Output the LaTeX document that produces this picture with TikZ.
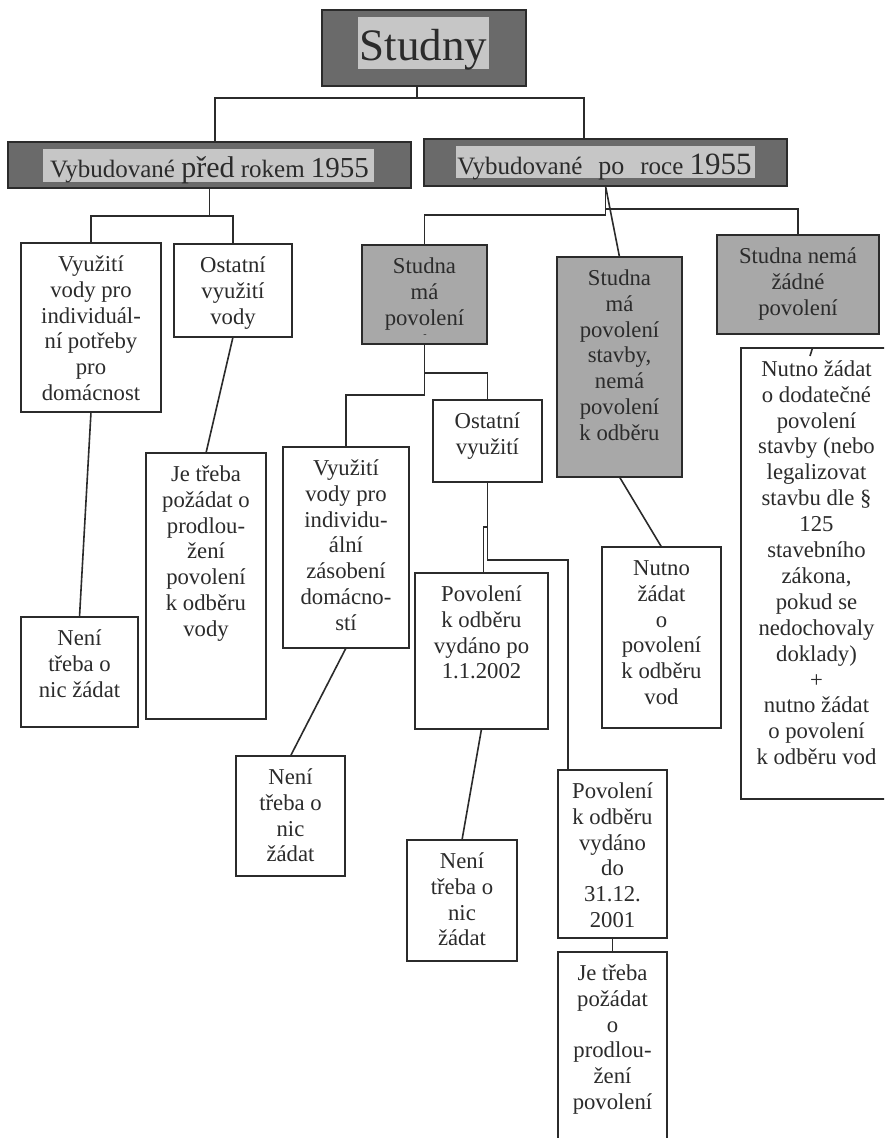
\documentclass[tikz,border=0pt]{standalone}
\usepackage{fontspec}
\setmainfont{Liberation Serif}
\definecolor{dkg}{HTML}{6A6A6A}
\definecolor{ltg}{HTML}{C6C6C6}
\definecolor{mdg}{HTML}{A8A8A8}
\definecolor{ink}{HTML}{2B2B2B}
\newcommand\bx[6]{\node[#2, minimum width={(#5)-(#3)}, minimum height={(#6)-(#4)}] (#1) at ({((#3)+(#5))/2},{((#4)+(#6))/2}) {};}
\newcommand\tx[2]{\node[txt] (#1t) at ([yshift=-9.9pt]#1.north) {\strut #2};}
\begin{document}
\begin{tikzpicture}[x=1pt,y=-1pt,
  conn/.style={draw=ink, line width=1.6pt},
  frame/.style={draw=ink, line width=1.8pt, fill=white, inner sep=0pt, outer sep=0pt},
  gframe/.style={frame, fill=mdg},
  dframe/.style={frame, fill=dkg},
  innerbox/.style={fill=ltg, draw=none, inner sep=0pt, outer sep=0pt},
  txt/.style={text=ink, inner sep=0pt, align=center, font=\fontsize{22.7}{25.9}\selectfont, anchor=north},
  hdr/.style={text=ink, inner sep=0pt, anchor=base},
]
\useasboundingbox (0,0) rectangle (884,1138);
\fill[white] (0,0) rectangle (884,1138);
\clip (0,0) rectangle (884,1138);

% top
\bx{studny}{dframe}{322}{10}{526}{86}
\bx{studnyi}{innerbox}{358}{17}{489}{69}
\node[hdr] (studnyt) at (423.5,60) {\fontsize{45}{50}\selectfont Studny};

\bx{hdrL}{dframe}{8}{142}{411}{188}
\bx{hdrLi}{innerbox}{43}{149}{374}{182}
\node[hdr] (hdrLt) at (209.5,177) {\fontsize{25}{30}\selectfont Vybudované {\fontsize{30}{30}\selectfont před} {\fontsize{25}{30}\selectfont rokem} {\fontsize{29}{30}\selectfont 1955}};

\bx{hdrR}{dframe}{424}{139}{787}{186}
\bx{hdrRi}{innerbox}{456}{146}{755}{178}
\node[hdr] (hdrRt) at (604.5,174) {\fontsize{25}{30}\selectfont Vybudované\hspace{16pt}{\fontsize{26}{30}\selectfont po}\hspace{16pt}roce {\fontsize{31}{30}\selectfont 1955}};

% left branch
\bx{b1}{frame}{21}{243}{161}{412}
\tx{b1}{Využití\\vody pro\\individuál-\\ní potřeby\\pro\\domácnost}
\bx{b2}{frame}{174}{244}{292}{337}
\tx{b2}{Ostatní\\využití\\vody}
\bx{b3}{frame}{21}{617}{138}{727}
\tx{b3}{Není\\třeba o\\nic žádat}
\bx{b4}{frame}{146}{453}{266}{719}
\tx{b4}{Je třeba\\požádat o\\prodlou-\\žení\\povolení\\k odběru\\vody}

% middle branch
\bx{g1}{gframe}{362}{245}{487}{344}
\tx{g1}{Studna\\má\\povolení}
\node[text=ink, inner sep=0pt] (g1d) at (425,336) {\fontsize{10}{10}\selectfont -};
\bx{b5}{frame}{283}{447}{409}{648}
\tx{b5}{Využití\\vody pro\\individu-\\ální\\zásobení\\domácno-\\stí}
\bx{b6}{frame}{433}{400}{542}{482}
\tx{b6}{Ostatní\\využití}
\bx{b7}{frame}{236}{756}{345}{876}
\tx{b7}{Není\\třeba o\\nic\\žádat}
\bx{b8}{frame}{415}{573}{548}{729}
\tx{b8}{Povolení\\k odběru\\vydáno po\\1.1.2002}
\bx{b9}{frame}{407}{840}{517}{961}
\tx{b9}{Není\\třeba o\\nic\\žádat}
\bx{b10}{frame}{558}{770}{667}{938}
\tx{b10}{Povolení\\k odběru\\vydáno\\do\\31.12.\\2001}
\bx{b11}{frame}{558}{952}{667}{1150}
\tx{b11}{Je třeba\\požádat\\o\\prodlou-\\žení\\povolení}

% right branch
\bx{g2}{gframe}{557}{257}{682}{477}
\tx{g2}{Studna\\má\\povolení\\stavby,\\nemá\\povolení\\k odběru}
\bx{b12}{frame}{602}{547}{721}{728}
\tx{b12}{Nutno\\žádat\\o\\povolení\\k odběru\\vod}
\bx{g3}{gframe}{717}{235}{879}{334}
\tx{g3}{Studna nemá\\žádné\\povolení}
\bx{b13}{frame}{741}{348}{892}{799}
\tx{b13}{Nutno žádat\\o dodatečné\\povolení\\stavby (nebo\\legalizovat\\stavbu dle §\\125\\stavebního\\zákona,\\pokud se\\nedochovaly\\doklady)\\+\\nutno žádat\\o povolení\\k odběru vod}

% connectors
\coordinate (j0) at ([xshift=-7pt,yshift=-12pt]studny.south);
\draw[conn] ([xshift=-7pt]studny.south) -- (j0);
\draw[conn] ([xshift=5.5pt]hdrL.north) |- (j0) -| ([xshift=-21.5pt]hdrR.north);

\coordinate (jL) at ([yshift=-28pt]hdrL.south);
\draw[conn] (hdrL.south) -- (jL);
\draw[conn] (b1.north) -- (b1.north |- jL) -- (b2.north |- jL) -- (b2.north);
\draw[conn] (b1.south) -- (b3.north);
\draw[conn] (b2.south) -- (b4.north);

\coordinate (jR) at ([yshift=-29pt]hdrR.south);
\draw[conn] (hdrR.south) -- (jR) -| (g1.north);
\draw[conn] ([yshift=-23pt]hdrR.south) -| (g3.north);
\draw[conn] (hdrR.south) -- (g2.north);

\coordinate (jg1) at ([yshift=-51pt]g1.south);
\draw[conn] (g1.south) -- (jg1) -| (b5.north);
\draw[conn] ([yshift=-29pt]g1.south) -| (b6.north);
\draw[conn] (b5.south) -- (b7.north);

\draw[conn] (b6.south) -- ++(0,78) -| ([xshift=-44.5pt]b10.north);
\draw[conn] ([yshift=-45pt]b6.south) -- ++(-4,0) coordinate (k) -- (k |- b8.north);
\draw[conn] (b8.south) -- (b9.north);
\draw[conn] (b10.south) -- (b11.north);

\draw[conn] (g2.south) -- (b12.north);
\draw[conn] ([xshift=-4pt]b13.north) -- ++(-2.5,8);
\end{tikzpicture}
\end{document}
